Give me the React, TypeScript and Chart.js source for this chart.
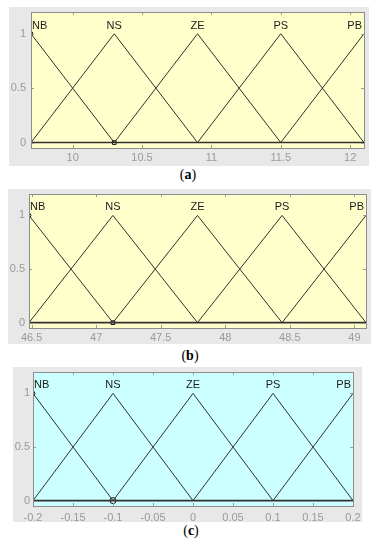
import React, { useEffect, useRef } from 'react';
import { Chart, registerables } from 'chart.js';

Chart.register(...registerables);

// ---------- data ----------
const mfNames = ['NB', 'NS', 'ZE', 'PS', 'PB'];
const mfShape = [0, 1, 0]; // membership at left foot, peak, right foot
const peaksA = [9.7, 10.3, 10.9, 11.5, 12.1];
const peaksB = [46.48, 47.13, 47.785, 48.44, 49.09];
const peaksC = [-0.2, -0.1, 0, 0.1, 0.2];
const xTicksA = [10, 10.5, 11, 11.5, 12];
const xTicksB = [46.5, 47, 47.5, 48, 48.5, 49];
const xTicksC = [-0.2, -0.15, -0.1, -0.05, 0, 0.05, 0.1, 0.15, 0.2];
const yTicks = [0, 0.5, 1];
const yRange = [-0.05, 1.2];
const captionLetters = ['a', 'b', 'c'];

// ---------- layout / style ----------
type PanelCfg = {
  peaks: number[];
  xTicks: number[];
  left: number; top: number; width: number; height: number;
  axisW: number; axisH: number; padTop: number; padRight: number;
  yPad: number; xPad: number;
  plotColor: string;
  marker: 'rect' | 'circle';
  capX: number; capY: number;
};

const panels: PanelCfg[] = [
  { peaks: peaksA, xTicks: xTicksA, left: 9, top: 7, width: 360, height: 159, axisW: 22, axisH: 18, padTop: 4, padRight: 5, yPad: 5, xPad: 3, plotColor: '#FFFFCC', marker: 'rect', capX: 188, capY: 175 },
  { peaks: peaksB, xTicks: xTicksB, left: 8, top: 189, width: 363, height: 155, axisW: 21, axisH: 16, padTop: 2, padRight: 4, yPad: 4, xPad: 3, plotColor: '#FFFFCC', marker: 'rect', capX: 190, capY: 356 },
  { peaks: peaksC, xTicks: xTicksC, left: 13, top: 367, width: 349, height: 155, axisW: 20, axisH: 16, padTop: 1, padRight: 9, yPad: 3, xPad: 5, plotColor: '#CCFFFF', marker: 'circle', capX: 191, capY: 531 },
];

const GRAY = '#E8E8E8';
const TICK_COLOR = '#9a9a9a';
const LINE_COLOR = '#303030';
const FONT = '"Liberation Sans", Arial, sans-serif';

function buildDatasets(peaks: number[], marker: 'rect' | 'circle') {
  const n = peaks.length;
  const ds: any[] = peaks.map((p, i) => {
    const pts: { x: number; y: number }[] = [];
    if (i > 0) pts.push({ x: peaks[i - 1], y: mfShape[0] });
    pts.push({ x: p, y: mfShape[1] });
    if (i < n - 1) pts.push({ x: peaks[i + 1], y: mfShape[2] });
    return {
      type: 'line',
      label: mfNames[i],
      data: pts,
      borderColor: LINE_COLOR,
      borderWidth: 1,
      pointRadius: 0,
      tension: 0,
      fill: false,
    };
  });
  ds.push({
    type: 'line',
    label: 'zero',
    data: [{ x: peaks[0], y: 0 }, { x: peaks[n - 1], y: 0 }],
    borderColor: LINE_COLOR,
    borderWidth: 1.6,
    pointRadius: 0,
    fill: false,
  });
  ds.push({
    type: 'scatter',
    label: 'sel',
    data: [{ x: peaks[0], y: 1 }],
    pointStyle: 'rect',
    pointRadius: 2.2,
    borderColor: '#111',
    borderWidth: 1,
    backgroundColor: 'rgba(0,0,0,0)',
  });
  ds.push({
    type: 'scatter',
    label: 'sel2',
    data: [{ x: peaks[1], y: 0 }],
    pointStyle: marker,
    pointRadius: marker === 'rect' ? 2.6 : 3,
    borderColor: '#111',
    borderWidth: 1,
    backgroundColor: 'rgba(0,0,0,0)',
  });
  return ds;
}

function makeChart(canvas: HTMLCanvasElement, cfg: PanelCfg) {
  const bgPlugin = {
    id: 'bg',
    beforeDraw(chart: any) {
      const { ctx, chartArea: a } = chart;
      ctx.save();
      ctx.fillStyle = GRAY;
      ctx.fillRect(0, 0, chart.width, chart.height);
      ctx.fillStyle = cfg.plotColor;
      ctx.fillRect(a.left, a.top, a.right - a.left, a.bottom - a.top);
      ctx.restore();
    },
    afterDraw(chart: any) {
      const { ctx, chartArea: a, scales } = chart;
      const xs = scales.x, ys = scales.y;
      ctx.save();
      ctx.strokeStyle = TICK_COLOR;
      ctx.lineWidth = 1;
      const L = 3;
      ctx.beginPath();
      cfg.xTicks.forEach((v) => {
        const px = Math.round(xs.getPixelForValue(v)) + 0.5;
        ctx.moveTo(px, a.top); ctx.lineTo(px, a.top + L);
        ctx.moveTo(px, a.bottom); ctx.lineTo(px, a.bottom - L);
      });
      yTicks.forEach((v) => {
        const py = Math.round(ys.getPixelForValue(v)) + 0.5;
        ctx.moveTo(a.left, py); ctx.lineTo(a.left + L, py);
        ctx.moveTo(a.right, py); ctx.lineTo(a.right - L, py);
      });
      ctx.stroke();
      ctx.strokeStyle = '#8c8c8c';
      ctx.strokeRect(Math.round(a.left) + 0.5, Math.round(a.top) + 0.5, Math.round(a.right - a.left), Math.round(a.bottom - a.top));
      // MF names
      ctx.fillStyle = '#1a1a1a';
      ctx.font = '11px ' + FONT;
      ctx.textBaseline = 'alphabetic';
      const yy = ys.getPixelForValue(1) - 5;
      cfg.peaks.forEach((p, i) => {
        let x = xs.getPixelForValue(p);
        if (i === 0) { ctx.textAlign = 'left'; x = a.left + 1; }
        else if (i === cfg.peaks.length - 1) { ctx.textAlign = 'right'; x = a.right - 2; }
        else ctx.textAlign = 'center';
        ctx.fillText(mfNames[i], x, yy);
      });
      ctx.restore();
    },
  };

  return new Chart(canvas, {
    type: 'line',
    data: { datasets: buildDatasets(cfg.peaks, cfg.marker) },
    options: {
      animation: false,
      responsive: false,
      devicePixelRatio: 1,
      layout: { padding: { top: cfg.padTop, right: cfg.padRight, left: 0, bottom: 0 } },
      plugins: { legend: { display: false }, tooltip: { enabled: false } },
      scales: {
        x: {
          type: 'linear',
          min: cfg.peaks[0],
          max: cfg.peaks[cfg.peaks.length - 1],
          afterBuildTicks: (s: any) => { s.ticks = cfg.xTicks.map((v) => ({ value: v })); },
          afterFit: (s: any) => {
            s.height = cfg.axisH;
            s.paddingLeft = 0; s.paddingRight = 0; s.paddingTop = 0; s.paddingBottom = 0;
          },
          grid: { display: false, drawTicks: false },
          border: { display: false },
          ticks: {
            autoSkip: false, maxRotation: 0, padding: cfg.xPad,
            color: TICK_COLOR, font: { family: FONT, size: 11 },
            callback: (v: any) => String(v),
          },
        },
        y: {
          type: 'linear',
          min: yRange[0],
          max: yRange[1],
          afterBuildTicks: (s: any) => { s.ticks = yTicks.map((v) => ({ value: v })); },
          afterFit: (s: any) => {
            s.width = cfg.axisW;
            s.paddingLeft = 0; s.paddingRight = 0; s.paddingTop = 0; s.paddingBottom = 0;
          },
          grid: { display: false, drawTicks: false },
          border: { display: false },
          ticks: {
            padding: cfg.yPad,
            color: TICK_COLOR, font: { family: FONT, size: 11 },
            callback: (v: any) => String(v),
          },
        },
      },
    },
    plugins: [bgPlugin],
  } as any);
}

function Panel({ cfg, letter }: { cfg: PanelCfg; letter: string }) {
  const ref = useRef<HTMLCanvasElement>(null);
  useEffect(() => {
    if (!ref.current) return;
    const ch = makeChart(ref.current, cfg);
    return () => ch.destroy();
  }, [cfg]);
  return (
    <>
      <canvas
        ref={ref}
        width={cfg.width}
        height={cfg.height}
        style={{ position: 'absolute', left: cfg.left, top: cfg.top, width: cfg.width, height: cfg.height }}
      />
      <div
        style={{
          position: 'absolute', left: cfg.capX - 20, top: cfg.capY - 9, width: 40, height: 18,
          textAlign: 'center', lineHeight: '18px', fontSize: 14,
          fontFamily: '"Liberation Serif", "Times New Roman", serif', color: '#000',
        }}
      >
        (<b>{letter}</b>)
      </div>
    </>
  );
}

export default function App() {
  return (
    <div style={{ position: 'absolute', left: 0, top: 0, width: 379, height: 550, background: '#fff', overflow: 'hidden' }}>
      {panels.map((p, i) => (
        <Panel key={i} cfg={p} letter={captionLetters[i]} />
      ))}
    </div>
  );
}
